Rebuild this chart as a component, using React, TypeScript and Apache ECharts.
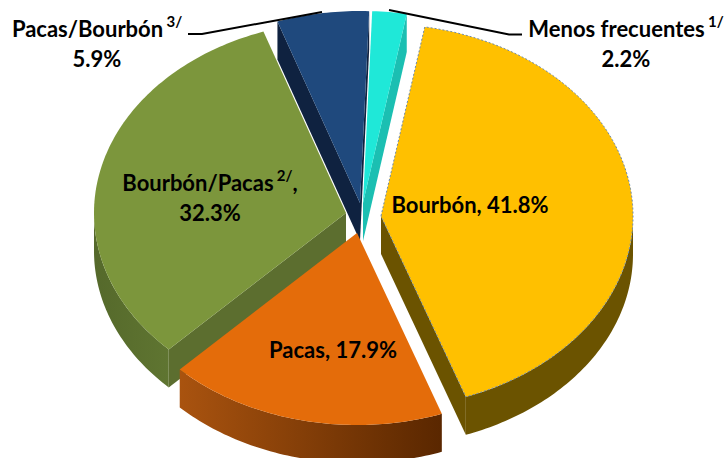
import React, { useEffect, useRef } from "react";
import * as echarts from "echarts";

const categories = ["Bourbón", "Pacas", "Bourbón/Pacas", "Pacas/Bourbón", "Menos frecuentes"];
const shares = [41.8, 17.9, 32.3, 5.9, 2.2];
const footnotes = ["", "", "2/", "3/", "1/"];

const topColors = ["#FFC000", "#E46C0A", "#7C963C", "#1F497D", "#1FE8D8"];
const wallColors = [
  ["#6B5300", "#6B5300"],
  ["#A9530F", "#5A2700"],
  ["#5F7531", "#55692B"],
  ["#0F2240", "#0F2240"],
  ["#1BBFB2", "#1BBFB2"],
];
const cutColors = ["#6B5300", "#5A2700", "#5C6E2F", "#0F2240", "#1BBFB2"];
const tipX = [381, 357, 346, 360, 363];
const tipY = [216, 233, 213, 203, 203];
const drawOrder = [1, 4, 2, 3, 5];
const labelX = [470, 333, 210, 97, 626];
const labelY = [204, 349, 197, 43, 43];

const START_ANGLE = 10;
const RX = 252;
const RY = 192;
const DEPTH = 38;
const FONT = "Lato, Carlito, Calibri, sans-serif";

const total = shares.reduce((a, b) => a + b, 0);
const rad = (d: number) => (d * Math.PI) / 180;

function labelText(i: number) {
  const pct = shares[i].toFixed(1) + "%";
  const name = categories[i];
  const sup = footnotes[i] ? ` {s|${footnotes[i]}}` : "";
  if (i < 2) return `{b|${name}, ${pct}}`;
  if (i === 2) return `{b|${name}}${sup}{b|,}\n{b|${pct}}`;
  return `{b|${name}}${sup}\n{b|${pct}}`;
}

function renderItem(params: any, api: any) {
  const i = params.dataIndex;
  let before = 0;
  for (let k = 0; k < i; k++) before += shares[k];
  const a0 = START_ANGLE + (before / total) * 360;
  const a1 = a0 + (api.value(0) / total) * 360;
  const tx = tipX[i];
  const ty = tipY[i];
  const pt = (deg: number, dy = 0) => [tx + RX * Math.sin(rad(deg)), ty - RY * Math.cos(rad(deg)) + dy];
  const arc = (from: number, to: number, dy = 0) => {
    const out: number[][] = [];
    const n = Math.max(2, Math.ceil(Math.abs(to - from)));
    for (let k = 0; k <= n; k++) out.push(pt(from + ((to - from) * k) / n, dy));
    return out;
  };
  const children: any[] = [];
  const base = drawOrder[i] * 10;

  const sinPos = (deg: number) => Math.sin(rad(deg)) > 0;
  const cut = (deg: number) => {
    const e = pt(deg);
    children.push({
      type: "polygon",
      z2: base,
      shape: { points: [[tx, ty], e, [e[0], e[1] + DEPTH], [tx, ty + DEPTH]] },
      style: { fill: cutColors[i] },
    });
  };
  if (!sinPos(a0)) cut(a0);
  if (sinPos(a1)) cut(a1);

  // front-facing part of the rim: the angles between 90 and 270 degrees
  const rimFrom = Math.max(a0, 90);
  const rimTo = Math.min(a1, 270);
  if (rimTo > rimFrom) {
    const top = arc(rimFrom, rimTo);
    const bottom = arc(rimTo, rimFrom, DEPTH);
    children.push({
      type: "polygon",
      z2: base + 1,
      shape: { points: top.concat(bottom) },
      style: {
        fill: new echarts.graphic.LinearGradient(0, 0, 1, 0, [
          { offset: 0, color: rimFrom > 180 ? wallColors[i][1] : wallColors[i][0] },
          { offset: 1, color: rimFrom > 180 ? wallColors[i][0] : wallColors[i][1] },
        ]),
      },
    });
  }
  children.push({
    type: "polygon",
    z2: base + 2,
    shape: { points: [[tx, ty], ...arc(a0, a1)] },
    style: {
      fill: topColors[i],
      stroke: i === 0 ? "#6F8AA8" : undefined,
      lineWidth: i === 0 ? 1 : 0,
      lineDash: i === 0 ? [2, 2] : undefined,
    },
  });
  children.push({
    type: "text",
    z2: 100,
    x: labelX[i],
    y: labelY[i],
    style: {
      text: labelText(i),
      align: "center",
      verticalAlign: "middle",
      rich: {
        b: { fontFamily: FONT, fontWeight: "bold", fontSize: 22, lineHeight: 30, color: "#000" },
        s: { fontFamily: FONT, fontWeight: "bold", fontSize: 15, lineHeight: 30, verticalAlign: "top", color: "#000" },
      },
    },
  });
  return { type: "group", children };
}

export default function App() {
  const ref = useRef<HTMLDivElement>(null);
  useEffect(() => {
    const chart = echarts.init(ref.current!, undefined, { renderer: "svg" });
    chart.setOption({
      animation: false,
      backgroundColor: "#fff",
      graphic: [
        {
          type: "polyline",
          z: 10,
          shape: { points: [[188, 34], [202, 34], [322, 12]] },
          style: { stroke: "#000", lineWidth: 2, fill: "none" },
        },
        {
          type: "polyline",
          z: 10,
          shape: { points: [[522, 34.5], [509, 34.5], [389, 10]] },
          style: { stroke: "#000", lineWidth: 2, fill: "none" },
        },
      ],
      series: [
        {
          type: "custom",
          coordinateSystem: "none",
          renderItem,
          data: shares.map((v, i) => ({ name: categories[i], value: [v] })),
        },
      ],
    });
    return () => chart.dispose();
  }, []);
  return <div ref={ref} style={{ position: "absolute", left: 0, top: 0, width: 728, height: 458 }} />;
}
